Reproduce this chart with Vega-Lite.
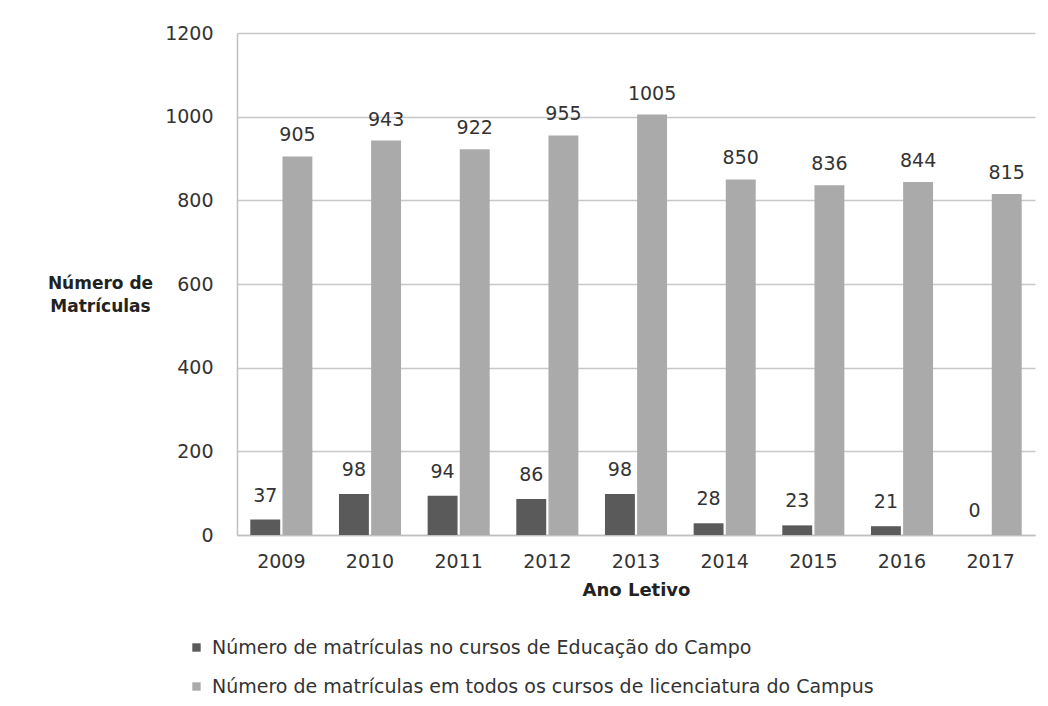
{
  "$schema": "https://vega.github.io/schema/vega-lite/v6.json",
  "width": 798,
  "height": 502,
  "autosize": {"type": "none"},
  "padding": {"left": 237, "top": 33, "right": 13, "bottom": 171},
  "background": "white",
  "data": {"values": [
    {"ano": "2009", "serie": "Número de matrículas no cursos de Educação do Campo", "valor": 37},
    {"ano": "2010", "serie": "Número de matrículas no cursos de Educação do Campo", "valor": 98},
    {"ano": "2011", "serie": "Número de matrículas no cursos de Educação do Campo", "valor": 94},
    {"ano": "2012", "serie": "Número de matrículas no cursos de Educação do Campo", "valor": 86},
    {"ano": "2013", "serie": "Número de matrículas no cursos de Educação do Campo", "valor": 98},
    {"ano": "2014", "serie": "Número de matrículas no cursos de Educação do Campo", "valor": 28},
    {"ano": "2015", "serie": "Número de matrículas no cursos de Educação do Campo", "valor": 23},
    {"ano": "2016", "serie": "Número de matrículas no cursos de Educação do Campo", "valor": 21},
    {"ano": "2017", "serie": "Número de matrículas no cursos de Educação do Campo", "valor": 0},
    {"ano": "2009", "serie": "Número de matrículas em todos os cursos de licenciatura do Campus", "valor": 905},
    {"ano": "2010", "serie": "Número de matrículas em todos os cursos de licenciatura do Campus", "valor": 943},
    {"ano": "2011", "serie": "Número de matrículas em todos os cursos de licenciatura do Campus", "valor": 922},
    {"ano": "2012", "serie": "Número de matrículas em todos os cursos de licenciatura do Campus", "valor": 955},
    {"ano": "2013", "serie": "Número de matrículas em todos os cursos de licenciatura do Campus", "valor": 1005},
    {"ano": "2014", "serie": "Número de matrículas em todos os cursos de licenciatura do Campus", "valor": 850},
    {"ano": "2015", "serie": "Número de matrículas em todos os cursos de licenciatura do Campus", "valor": 836},
    {"ano": "2016", "serie": "Número de matrículas em todos os cursos de licenciatura do Campus", "valor": 844},
    {"ano": "2017", "serie": "Número de matrículas em todos os cursos de licenciatura do Campus", "valor": 815}
  ]},
  "encoding": {
    "x": {
      "field": "ano", "type": "nominal",
      "scale": {"paddingInner": 0.3, "paddingOuter": 0.15},
      "axis": {
        "title": "Ano Letivo", "titleFont": "DejaVu Sans", "titleFontSize": 18, "titleFontWeight": "bold", "titleColor": "#222", "titlePadding": 10,
        "labelAngle": 0, "labelFont": "DejaVu Sans", "labelFontSize": 19, "labelColor": "#333", "labelPadding": 17,
        "ticks": false, "domainColor": "#bfbfbf", "domainWidth": 1.5, "grid": false
      }
    },
    "xOffset": {
      "field": "serie", "type": "nominal",
      "sort": ["Número de matrículas no cursos de Educação do Campo", "Número de matrículas em todos os cursos de licenciatura do Campus"],
      "scale": {"paddingInner": 0.07}
    },
    "y": {
      "field": "valor", "type": "quantitative",
      "scale": {"domain": [0, 1200], "nice": false},
      "axis": {
        "values": [0, 200, 400, 600, 800, 1000, 1200], "format": "d",
        "title": ["Número de", "Matrículas"], "titleAngle": 0, "titleAlign": "center", "titleBaseline": "middle",
        "titleX": -137, "titleY": 250, "titleFont": "DejaVu Sans", "titleFontSize": 17, "titleFontWeight": "bold", "titleColor": "#222", "titleLineHeight": 23,
        "labelFont": "DejaVu Sans", "labelFontSize": 19, "labelColor": "#333", "labelPadding": 24,
        "ticks": false, "domainColor": "#bfbfbf", "domainWidth": 1.5, "gridColor": "#c8c8c8", "gridWidth": 1.5
      }
    }
  },
  "layer": [
    {
      "mark": {"type": "bar"},
      "encoding": {
        "color": {
          "field": "serie", "type": "nominal",
          "sort": ["Número de matrículas no cursos de Educação do Campo", "Número de matrículas em todos os cursos de licenciatura do Campus"],
          "scale": {"domain": ["Número de matrículas no cursos de Educação do Campo", "Número de matrículas em todos os cursos de licenciatura do Campus"], "range": ["#5a5a5a", "#aaaaaa"]},
          "legend": {
            "title": null, "orient": "none", "legendX": -50, "legendY": 605, "direction": "vertical",
            "symbolType": "square", "symbolSize": 70, "symbolStrokeWidth": 0,
            "labelFont": "DejaVu Sans", "labelFontSize": 19, "labelColor": "#333", "rowPadding": 19, "labelOffset": 6,
            "labelLimit": 900
          }
        }
      }
    },
    {
      "transform": [{"filter": "datum.valor < 200"}],
      "mark": {"type": "text", "dy": -14, "baseline": "bottom", "font": "DejaVu Sans", "fontSize": 19, "color": "#333"},
      "encoding": {"text": {"field": "valor", "type": "quantitative"}}
    },
    {
      "transform": [{"filter": "datum.valor >= 200"}],
      "mark": {"type": "text", "dy": -11, "baseline": "bottom", "font": "DejaVu Sans", "fontSize": 19, "color": "#333"},
      "encoding": {"text": {"field": "valor", "type": "quantitative"}}
    }
  ],
  "config": {"view": {"stroke": null}}
}
